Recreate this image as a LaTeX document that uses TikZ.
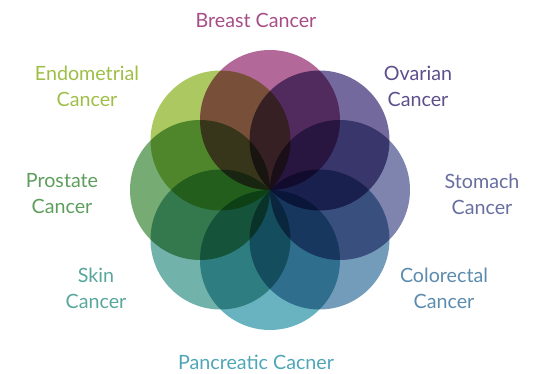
\documentclass[tikz,border=0pt]{standalone}
\usepackage{fontspec}
\setmainfont{Lato}
\usetikzlibrary{positioning}
\definecolor{breastpink}{RGB}{166,77,136}
\definecolor{ovarianpurple}{RGB}{92,79,140}
\definecolor{stomachblue}{RGB}{104,110,160}
\definecolor{colorectalblue}{RGB}{91,139,174}
\definecolor{pancreaticteal}{RGB}{79,166,182}
\definecolor{skinteal}{RGB}{88,166,156}
\definecolor{prostategreen}{RGB}{94,158,92}
\definecolor{endogreen}{RGB}{158,190,69}

\begin{document}
\begin{tikzpicture}[cancertext/.style={align=center, font=\fontsize{14}{18.5}\selectfont}]
    \useasboundingbox (-6.75,-4.6) rectangle (6.95,4.75);
    % Petals
    \begin{scope}[blend group=multiply]
        \foreach \ang/\col in {90/breastpink, 45/ovarianpurple, 0/stomachblue, -45/colorectalblue,
                               -90/pancreaticteal, -135/skinteal, 180/prostategreen, 135/endogreen}
            \fill [\col, fill opacity=0.85] (\ang:1.75) circle (1.75);
    \end{scope}
    % Labels
    \node [cancertext, text=breastpink] (breast) at (-0.35,4.25) {Breast Cancer};
    \node [cancertext, text=ovarianpurple] (ovarian) at (3.7,2.6) {Ovarian\\Cancer};
    \node [cancertext, text=stomachblue] (stomach) at (5.3,-0.1) {Stomach\\Cancer};
    \node [cancertext, text=colorectalblue] (colorectal) at (4.35,-2.45) {Colorectal\\Cancer};
    \node [cancertext, text=pancreaticteal] (pancreatic) at (-0.35,-4.3) {Pancreatic Cacner};
    \node [cancertext, text=skinteal] (skin) at (-4.35,-2.45) {Skin\\Cancer};
    \node [cancertext, text=prostategreen] (prostate) at (-5.2,-0.1) {Prostate\\Cancer};
    \node [cancertext, text=endogreen] (endometrial) at (-4.575,2.6) {Endometrial\\Cancer};
\end{tikzpicture}
\end{document}
